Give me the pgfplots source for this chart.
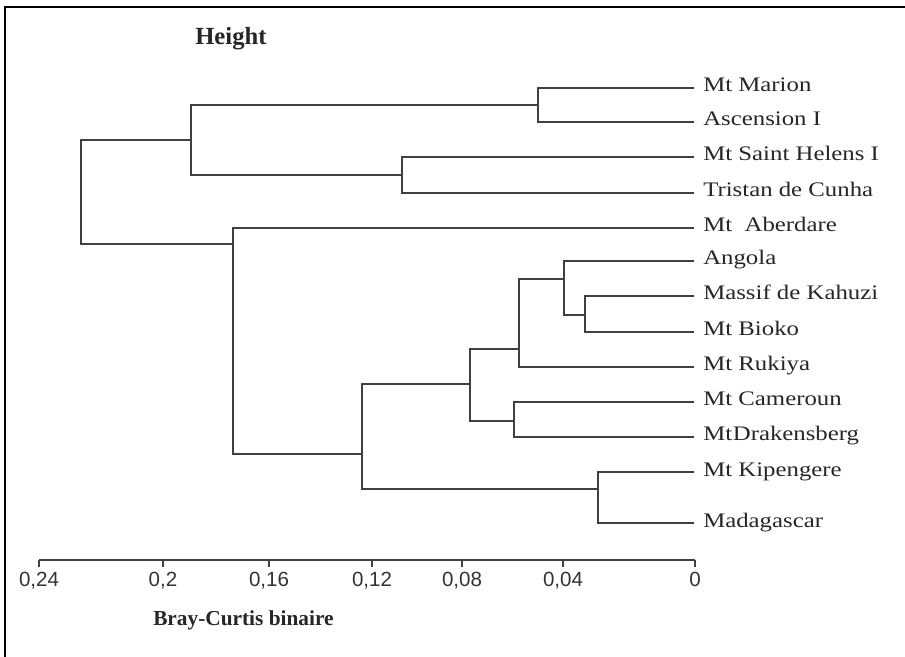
\documentclass[border=0pt]{standalone}
\usepackage{fontspec}
\setmainfont{Liberation Serif}
\setsansfont{Liberation Sans}
\newfontfamily\leaffont{Liberation Serif}[FakeStretch=1.2]
\usepackage{pgfplots}
\pgfplotsset{compat=1.18}

% positions are in pixels of the original figure (1px = 0.75pt), y measured upwards
\begin{document}
\begin{tikzpicture}
\begin{axis}[
    scale only axis,
    width=492pt, height=375pt,
    xmin=39, xmax=695, ymin=96, ymax=596,
    axis x line*=bottom, axis y line=none,
    clip=false,
    xtick={39,163,269,372,462,563,695},
    xticklabels={{0,24},{0,2},{0,16},{0,12},{0,08},{0,04},0},
    minor tick num=0,
    tick align=outside,
    major tick length=5.25pt,
    x axis line style={black!75, line width=1pt},
    tick style={black!75, line width=1pt},
    xticklabel style={font=\sffamily\fontsize{15.4}{18}\selectfont, text=black!80},
    dend/.style={black!75, line width=1.05pt, no marks, solid, line cap=rect},
]
% clusters: each path = child line, node bar, child line
\addplot[dend] coordinates {(693,568) (538,568) (538,534) (693,534)};
\addplot[dend] coordinates {(693,499) (402,499) (402,463) (693,463)};
\addplot[dend] coordinates {(538,551) (191,551) (191,481) (402,481)};
\addplot[dend] coordinates {(191,516) (81,516) (81,412) (233,412)};
\addplot[dend] coordinates {(693,428) (233,428) (233,202) (362,202)};
\addplot[dend] coordinates {(470,272) (362,272) (362,167) (598,167)};
\addplot[dend] coordinates {(519,307) (470,307) (470,235) (514,235)};
\addplot[dend] coordinates {(564,377) (519,377) (519,289) (693,289)};
\addplot[dend] coordinates {(693,395) (564,395) (564,341) (585,341)};
\addplot[dend] coordinates {(693,360) (585,360) (585,324) (693,324)};
\addplot[dend] coordinates {(693,254) (514,254) (514,219) (693,219)};
\addplot[dend] coordinates {(693,184) (598,184) (598,133) (693,133)};

\begin{scope}[every node/.style={anchor=base west, inner sep=0pt, text=black!85,
    font=\leaffont\fontsize{15.5}{18}\selectfont}]
\node at (axis cs:703,564) {Mt Marion};
\node at (axis cs:703,530) {Ascension I};
\node at (axis cs:703,495) {Mt Saint Helens I};
\node at (axis cs:703,459) {Tristan de Cunha};
\node at (axis cs:703,424) {Mt\ \ Aberdare};
\node at (axis cs:703,391) {Angola};
\node at (axis cs:703,356) {Massif de Kahuzi};
\node at (axis cs:703,320) {Mt Bioko};
\node at (axis cs:703,285) {Mt Rukiya};
\node at (axis cs:703,250) {Mt Cameroun};
\node at (axis cs:703,215) {Mt\kern0.5pt Drakensberg};
\node at (axis cs:703,180) {Mt Kipengere};
\node at (axis cs:703,129) {Madagascar};
\end{scope}

\node[anchor=base west, inner sep=0pt, text=black!85,
    font=\bfseries\fontsize{18.5}{22}\selectfont] at (axis cs:195,611) {Height};
\node[anchor=base west, inner sep=0pt, text=black!85,
    font=\bfseries\fontsize{16}{19}\selectfont] at (axis cs:153,31) {Bray-Curtis binaire};

% frame of the figure
\draw[black, line width=1.8pt] (axis cs:5,-10) -- (axis cs:5,649) -- (axis cs:910,649);

\coordinate (bl) at (axis cs:0,0);
\coordinate (tr) at (axis cs:905,656);
\end{axis}
\pgfresetboundingbox
\useasboundingbox (bl) rectangle (tr);
\end{tikzpicture}
\end{document}
